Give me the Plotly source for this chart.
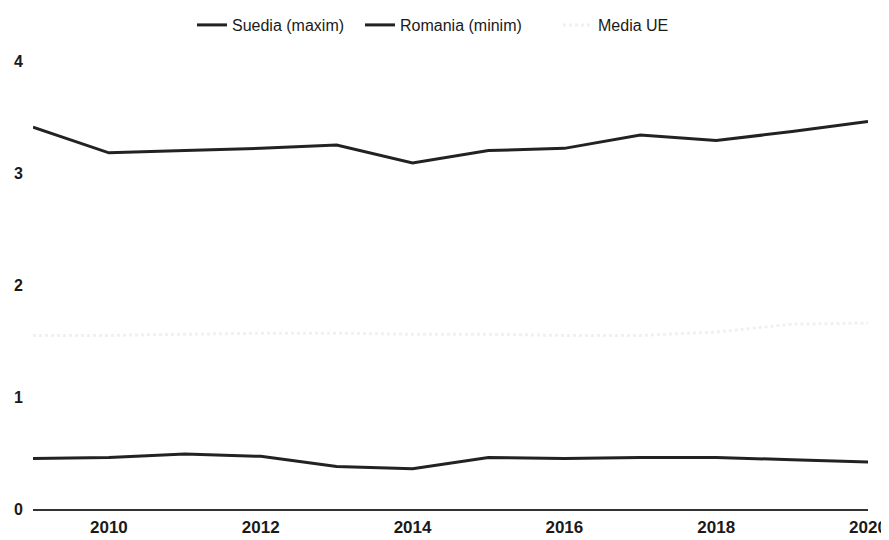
import plotly.graph_objects as go

years = [2009, 2010, 2011, 2012, 2013, 2014, 2015, 2016, 2017, 2018, 2019, 2020]
suedia = [3.41, 3.18, 3.20, 3.22, 3.25, 3.09, 3.20, 3.22, 3.34, 3.29, 3.37, 3.46]
romania = [0.45, 0.46, 0.49, 0.47, 0.38, 0.36, 0.46, 0.45, 0.46, 0.46, 0.44, 0.42]
media_ue = [1.55, 1.55, 1.56, 1.57, 1.57, 1.56, 1.56, 1.55, 1.55, 1.58, 1.65, 1.66]
x_ticks = [2010, 2012, 2014, 2016, 2018, 2020]
y_ticks = [0, 1, 2, 3, 4]

W, H = 881, 532  # page body has an 8px margin

fig = go.Figure()
fig.add_trace(go.Scatter(x=years, y=suedia, mode="lines", name="Suedia (maxim)",
                         line=dict(color="#222222", width=3), legend="legend"))
fig.add_trace(go.Scatter(x=years, y=romania, mode="lines", name="Romania (minim)",
                         line=dict(color="#222222", width=3), legend="legend2"))
fig.add_trace(go.Scatter(x=years, y=media_ue, mode="lines", name="Media UE",
                         line=dict(color="rgba(0,0,0,0.06)", width=3, dash="dot"), legend="legend3"))

def leg(xpx):
    return dict(orientation="h", xref="container", x=xpx / W, xanchor="left",
                yref="container", y=1 - 17 / H, yanchor="middle",
                font=dict(size=16, color="#1a1a1a"), itemwidth=30,
                bgcolor="rgba(0,0,0,0)")

fig.update_layout(
    width=W, height=H,
    margin=dict(l=25, r=21, t=53, b=31, autoexpand=False),
    paper_bgcolor="white", plot_bgcolor="white",
    font=dict(family="Liberation Sans, Arial, sans-serif", color="#1a1a1a", size=16),
    showlegend=True,
    legend=leg(184), legend2=leg(352), legend3=leg(550),
    xaxis=dict(range=[2009, 2020], tickvals=x_ticks, ticktext=[str(t) for t in x_ticks],
               showgrid=False, zeroline=False, showline=True, linecolor="#333333",
               linewidth=2, ticks="", ticklabelstandoff=2,
               tickfont=dict(size=17, color="#1a1a1a", weight="bold")),
    yaxis=dict(range=[0, 4], tickvals=y_ticks, showgrid=False, zeroline=False,
               showline=False, ticks="", ticklabelstandoff=9,
               tickfont=dict(size=16, color="#1a1a1a", weight="bold")),
)

fig.write_html("out.html")
